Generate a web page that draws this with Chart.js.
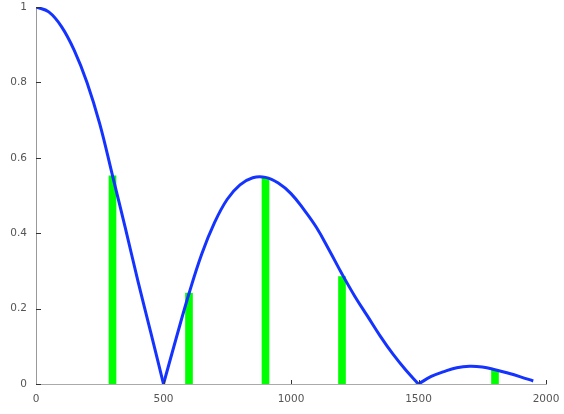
<!DOCTYPE html>
<html>
<head>
<meta charset="utf-8">
<script src="https://cdn.jsdelivr.net/npm/chart.js@4/dist/chart.umd.min.js"></script>
<style>
  html, body { margin: 0; padding: 0; background: #fff; }
</style>
</head>
<body>
<canvas id="chart" width="564" height="414"></canvas>
<script>
// curve samples
const lineX = [0, 50, 100, 150, 200, 250, 300, 350, 400, 450,
               500, 550, 600, 650, 700, 750, 800, 850, 900, 950,
               1000, 1050, 1100, 1150, 1200, 1250, 1300, 1350, 1400, 1450,
               1500, 1550, 1600, 1650, 1700, 1750, 1800, 1850, 1900, 1950];
const lineY = [1.000, 0.987, 0.948, 0.885, 0.800, 0.690, 0.553, 0.415, 0.272, 0.137,
               0.000, 0.122, 0.240, 0.345, 0.428, 0.490, 0.528, 0.547, 0.548, 0.533,
               0.505, 0.463, 0.415, 0.355, 0.292, 0.233, 0.180, 0.127, 0.079, 0.037,
               0.000, 0.020, 0.033, 0.043, 0.047, 0.045, 0.038, 0.029, 0.019, 0.008];

// the curve has sharp corners where it touches zero
const cusps = [500, 1500];

// green bars
const barX = [300, 600, 900, 1200, 1500, 1800];
const barY = [0.552, 0.241, 0.547, 0.285, 0, 0.038];

// axis ticks
const xTicks = [0, 500, 1000, 1500, 2000];
const yTicks = [0, 0.2, 0.4, 0.6, 0.8, 1];

// split the curve at the cusps so the smoothing keeps them sharp
function curvePieces() {
    const pieces = [];
    let cur = [];
    lineX.forEach((x, i) => {
        cur.push({ x: x, y: lineY[i] });
        if (cusps.includes(x)) {
            pieces.push(cur);
            cur = [{ x: x, y: lineY[i] }];
        }
    });
    pieces.push(cur);
    return pieces;
}

// small tick marks drawn inside the plot, like the original
const innerTicks = {
    id: 'innerTicks',
    afterDraw(chart) {
        const ctx = chart.ctx;
        const xs = chart.scales.x, ys = chart.scales.y;
        const area = chart.chartArea;
        ctx.save();
        ctx.strokeStyle = '#333';
        ctx.lineWidth = 1;
        ctx.beginPath();
        xTicks.forEach(v => {
            if (v === 0) return;
            const px = Math.round(xs.getPixelForValue(v)) + 0.5;
            ctx.moveTo(px, area.bottom);
            ctx.lineTo(px, area.bottom - 4);
        });
        yTicks.forEach(v => {
            const py = Math.round(ys.getPixelForValue(v)) + 0.5;
            ctx.moveTo(area.left, py);
            ctx.lineTo(area.left + 5, py);
        });
        ctx.stroke();
        ctx.restore();
    }
};

const lineSets = curvePieces().map(pts => ({
    type: 'line',
    data: pts,
    borderColor: '#1533ff',
    borderWidth: 3,
    pointRadius: 0,
    tension: 0.4,
    fill: false,
    order: 0
}));

const ctx = document.getElementById('chart').getContext('2d');
new Chart(ctx, {
    type: 'bar',
    data: {
        datasets: lineSets.concat([{
            type: 'bar',
            data: barX.map((x, i) => ({ x: x, y: barY[i] })),
            backgroundColor: '#00ff00',
            borderWidth: 0,
            barThickness: 7,
            grouped: false,
            order: 1
        }])
    },
    options: {
        responsive: false,
        animation: false,
        devicePixelRatio: 1,
        layout: { padding: { top: 7, right: 18, left: 0, bottom: 0 } },
        plugins: { legend: { display: false }, tooltip: { enabled: false } },
        scales: {
            x: {
                type: 'linear',
                min: 0,
                max: 2000,
                offset: false,
                afterBuildTicks: s => { s.ticks = xTicks.map(v => ({ value: v })); },
                afterFit: s => {
                    s.height = 30;
                    s.paddingLeft = 0; s.paddingRight = 0;
                },
                grid: { display: false, drawTicks: false },
                border: { display: true, color: '#aaa', width: 1 },
                ticks: {
                    padding: 9,
                    color: '#555',
                    font: { family: 'DejaVu Sans', size: 10.5 },
                    maxRotation: 0,
                    callback: v => String(v)
                }
            },
            y: {
                min: 0,
                max: 1,
                afterBuildTicks: s => { s.ticks = yTicks.map(v => ({ value: v })); },
                afterFit: s => {
                    s.width = 36;
                    s.paddingTop = 0; s.paddingBottom = 0;
                },
                grid: { display: false, drawTicks: false },
                border: { display: true, color: '#999', width: 1 },
                ticks: {
                    padding: 9,
                    color: '#555',
                    font: { family: 'DejaVu Sans', size: 10.5 },
                    callback: v => String(Math.round(v * 10) / 10)
                }
            }
        }
    },
    plugins: [innerTicks]
});
</script>
</body>
</html>
